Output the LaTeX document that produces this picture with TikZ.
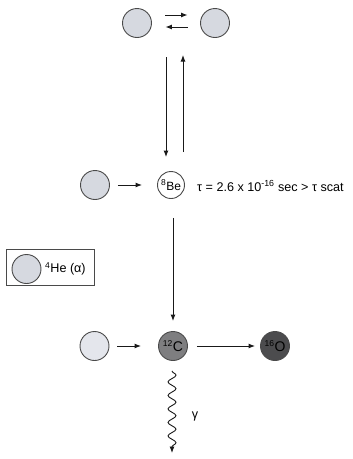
\documentclass[tikz,border=0pt]{standalone}
\usepackage{fontspec}
\setmainfont{Liberation Sans}
\usetikzlibrary{arrows.meta,decorations.pathmorphing,calc}

\definecolor{alphafill}{HTML}{D6D9E0}
\definecolor{alphapale}{HTML}{E4E6EC}
\definecolor{carbonfill}{HTML}{7E7E80}
\definecolor{oxygenfill}{HTML}{4C4C4E}
\definecolor{rim}{HTML}{4A4A4A}

\tikzset{
  nucleus/.style={circle, draw=rim, line width=0.9pt, minimum size=29pt,
    inner sep=0pt, font=\fontsize{12}{14}\selectfont},
  alphanuc/.style={nucleus, fill=alphafill},
  flow/.style={-{Latex[length=6.5pt,width=5pt]}, line width=1pt, draw=black!90},
  label/.style={font=\fontsize{12.6}{14}\selectfont, inner sep=0pt}
}

\newcommand{\isotope}[2]{\textsuperscript{\fontsize{8.5}{9}\selectfont #1}#2}

\begin{document}
\begin{tikzpicture}[x=1pt,y=-1pt]
\useasboundingbox (0,0) rectangle (353,459);

% two alpha particles scattering
\node[alphanuc] (a1) at (137,23) {};
\node[alphanuc] (a2) at (215,23) {};
\draw[flow] ($(a1.east)+(13.5,-8)$) -- ($(a2.west)+(-12.5,-8)$);
\draw[flow] ($(a2.west)+(-12.5,4)$) -- ($(a1.east)+(13.5,4)$);

% beryllium-8 intermediate
\node[nucleus, fill=white, minimum size=27pt] (be) at (171,185)
  {\isotope{8}{Be}};
\node[alphanuc] (m) at (95,185) {};
\draw[flow] ($(m.east)+(8,0)$) -- ($(be.west)+(-15,0)$);

\coordinate (dtop) at (166,57);
\coordinate (utop) at (183,55);
\draw[flow] (dtop) -- (dtop |- {$(be.north)+(0,-14)$});
\draw[flow] (utop |- {$(be.north)+(0,-19)$}) -- (utop);

\node[label, anchor=west] (tau) at (197,186)
  {τ = 2.6 x 10\textsuperscript{-16} sec > τ scat};

% legend
\node[draw=rim, line width=0.9pt, minimum width=88pt, minimum height=36pt,
  inner sep=0pt] (legend) at (50,267) {};
\node[alphanuc] (la) at (26.5,269) {};
\node[label, anchor=west] (lt) at (45,269) {\isotope{4}{He} (α)};

% carbon and oxygen
\node[nucleus, fill=carbonfill, font=\fontsize{14}{16}\selectfont] (c) at (173,346)
  {\isotope{12}{C}};
\node[nucleus, fill=oxygenfill, font=\fontsize{14}{16}\selectfont] (o) at (275,346)
  {\isotope{16}{O}};
\node[nucleus, fill=alphapale] (b) at (94.5,346) {};

\draw[flow] ($(be.south)+(2,19)$) -- ($(c.north)+(0,-10)$);
\draw[flow] ($(b.east)+(8,0)$) -- ($(c.west)+(-17,0)$);
\draw[flow] ($(c.east)+(9,0)$) -- ($(o.west)+(-5,0)$);

% gamma emission
\coordinate (gend) at (172,453);
\draw[flow, line width=0.9pt,
  decorate, decoration={snake, amplitude=4pt, segment length=13.5pt, post length=6pt}]
  ($(c.south)+(-1,10)$) -- (gend);
\node[label] (g) at (195,416) {γ};
\end{tikzpicture}
\end{document}
